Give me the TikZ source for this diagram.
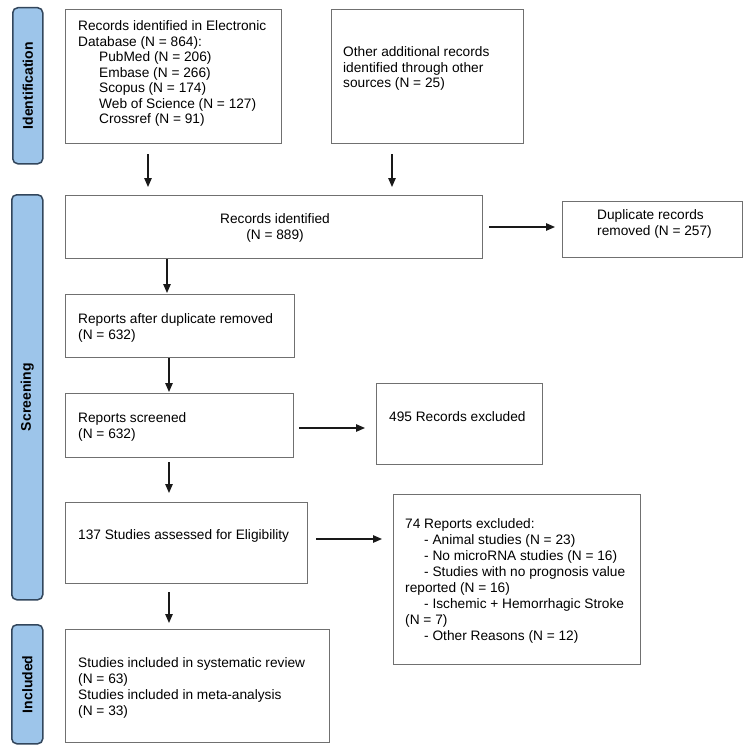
\documentclass[tikz,border=0pt]{standalone}
\usepackage{fontspec}
\setmainfont{Liberation Sans}
\usetikzlibrary{arrows.meta}
\definecolor{barfill}{RGB}{157,197,234}
\definecolor{barline}{RGB}{50,70,92}
\definecolor{boxline}{RGB}{112,112,112}
\definecolor{arrline}{RGB}{25,25,25}
\tikzset{
  box/.style={draw=boxline, line width=1.4pt, rectangle, inner sep=0pt, anchor=north west},
  sidebar/.style={draw=barline, fill=barfill, line width=1.5pt, rounded corners=5pt, rectangle, inner sep=0pt, anchor=north west},
  sidelabel/.style={rotate=90, font=\fontsize{14}{16}\selectfont\bfseries, inner sep=0pt},
  txt/.style={anchor=north west, inner sep=0pt, align=left, font=\fontsize{13.7}{15.5}\selectfont},
  txtw/.style={anchor=north west, inner sep=0pt, align=left, font=\fontsize{13.7}{16}\selectfont},
  arr/.style={draw=arrline, line width=1.2pt, -{Triangle[length=9pt,width=7.5pt]}}
}
\begin{document}
\begin{tikzpicture}[x=1pt,y=-1pt]
\useasboundingbox (0,0) rectangle (750,752);
% side bars
\node[sidebar, minimum width=30pt, minimum height=156pt] (bid) at (12,7) {};
\node[sidebar, minimum width=31pt, minimum height=405pt] (bsc) at (11,194) {};
\node[sidebar, minimum width=31pt, minimum height=119pt] (bin) at (11,624) {};
\node[sidelabel] (lid) at (bid.center) {Identification};
\node[sidelabel] (lsc) at (bsc.center) {Screening};
\node[sidelabel] (lin) at (bin.center) {Included};
% boxes
\node[box, minimum width=216pt, minimum height=134pt] (A) at (65,9) {};
\node[box, minimum width=192pt, minimum height=134pt] (B) at (331,9) {};
\node[box, minimum width=417pt, minimum height=63pt] (C) at (65,195) {};
\node[box, minimum width=180pt, minimum height=56pt] (D) at (562,201) {};
\node[box, minimum width=229pt, minimum height=63pt] (E) at (65,294) {};
\node[box, minimum width=228pt, minimum height=64pt] (F) at (65,393) {};
\node[box, minimum width=166pt, minimum height=81pt] (H) at (376,383) {};
\node[box, minimum width=242pt, minimum height=81pt] (G) at (65,502) {};
\node[box, minimum width=247pt, minimum height=170pt] (I) at (393,494) {};
\node[box, minimum width=264pt, minimum height=113pt] (J) at (65,629) {};
% texts
\node[txt] (At) at (78,19.6) {\strut Records identified in Electronic\\
Database (N = 864):\\
\hspace*{21pt}PubMed (N = 206)\\
\hspace*{21pt}Embase (N = 266)\\
\hspace*{21pt}Scopus (N = 174)\\
\hspace*{21pt}Web of Science (N = 127)\\
\hspace*{21pt}Crossref (N = 91)};
\node[txt] (Bt) at (343,45.6) {\strut Other additional records\\identified through other\\sources (N = 25)};
\node[txt, align=center, anchor=north] (Ct) at (275,212.5) {\strut Records identified\\(N = 889)};
\node[txt] (Dt) at (597,208.9) {\strut Duplicate records\\removed (N = 257)};
\node[txt] (Et) at (78,312.5) {\strut Reports after duplicate removed\\(N = 632)};
\node[txt] (Ft) at (78,411.9) {\strut Reports screened\\(N = 632)};
\node[txt] (Ht) at (389,410.9) {\strut 495 Records excluded};
\node[txt] (Gt) at (78,528.5) {\strut 137 Studies assessed for Eligibility};
\node[txtw] (It) at (405,517.1) {\strut 74 Reports excluded:\\
\hspace*{19pt}- Animal studies (N = 23)\\
\hspace*{19pt}- No microRNA studies (N = 16)\\
\hspace*{19pt}- Studies with no prognosis value\\
reported (N = 16)\\
\hspace*{19pt}- Ischemic + Hemorrhagic Stroke\\
(N = 7)\\
\hspace*{19pt}- Other Reasons (N = 12)};
\node[txtw] (Jt) at (78,656.1) {\strut Studies included in systematic review\\(N = 63)\\Studies included in meta-analysis\\(N = 33)};
% helper coordinates for connector positions
\coordinate (xa) at (148,0);
\coordinate (xb) at (392,0);
\coordinate (xc) at (167,0);
\coordinate (xe) at (169,0);
\coordinate (ycd) at (0,227);
\coordinate (yfh) at (0,428);
\coordinate (ygi) at (0,539);
% connectors
\draw[arr, shorten <=10pt, shorten >=8pt] (A.south -| xa) -- (C.north -| xa);
\draw[arr, shorten <=10pt, shorten >=8pt] (B.south -| xb) -- (C.north -| xb);
\draw[arr, shorten <=6pt, shorten >=7pt] (C.east |- ycd) -- (D.west |- ycd);
\draw[arr, shorten >=1pt] (C.south -| xc) -- (E.north -| xc);
\draw[arr, shorten >=1pt] (E.south -| xe) -- (F.north -| xe);
\draw[arr, shorten <=5pt, shorten >=11pt] (F.east |- yfh) -- (H.west |- yfh);
\draw[arr, shorten <=4pt, shorten >=9pt] (F.south -| xe) -- (G.north -| xe);
\draw[arr, shorten <=8pt, shorten >=11pt] (G.east |- ygi) -- (I.west |- ygi);
\draw[arr, shorten <=8pt, shorten >=6pt] (G.south -| xe) -- (J.north -| xe);
\end{tikzpicture}
\end{document}
